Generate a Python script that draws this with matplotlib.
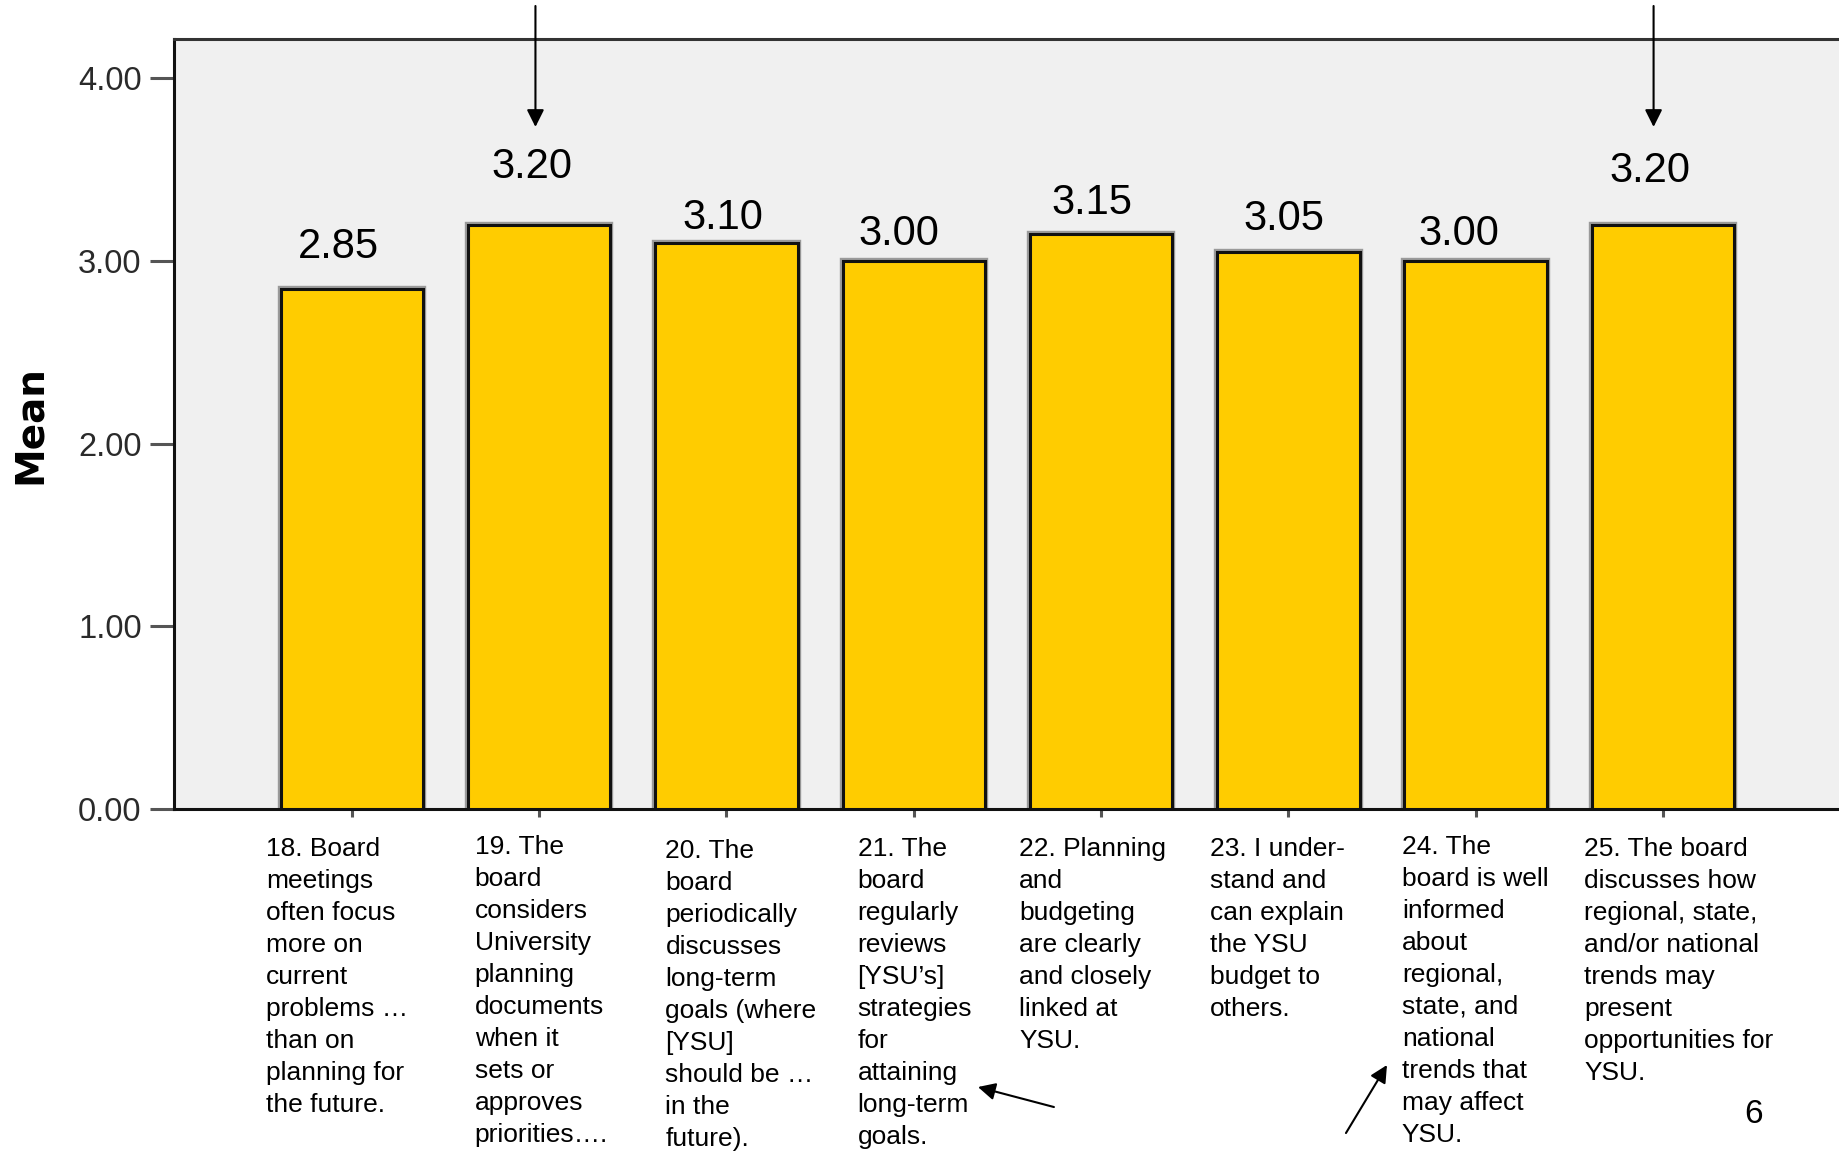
import matplotlib
matplotlib.use("Agg")
import matplotlib.pyplot as plt
from matplotlib.transforms import blended_transform_factory

# Survey items (x categories) and their mean ratings
items = [
    "18. Board\nmeetings\noften focus\nmore on\ncurrent\nproblems …\nthan on\nplanning for\nthe future.",
    "19. The\nboard\nconsiders\nUniversity\nplanning\ndocuments\nwhen it\nsets or\napproves\npriorities….",
    "20. The\nboard\nperiodically\ndiscusses\nlong-term\ngoals (where\n[YSU]\nshould be …\nin the\nfuture).",
    "21. The\nboard\nregularly\nreviews\n[YSU’s]\nstrategies\nfor\nattaining\nlong-term\ngoals.",
    "22. Planning\nand\nbudgeting\nare clearly\nand closely\nlinked at\nYSU.",
    "23. I under-\nstand and\ncan explain\nthe YSU\nbudget to\nothers.",
    "24. The\nboard is well\ninformed\nabout\nregional,\nstate, and\nnational\ntrends that\nmay affect\nYSU.",
    "25. The board\ndiscusses how\nregional, state,\nand/or national\ntrends may\npresent\nopportunities for\nYSU.",
]
means = [2.85, 3.20, 3.10, 3.00, 3.15, 3.05, 3.00, 3.20]
y_ticks = [0.0, 1.0, 2.0, 3.0, 4.0]
y_label = "Mean"
page_number = "6"
highlighted = [1, 7]  # items marked with an arrow from above

# Hand placement of the value labels (index units, data units above bar)
value_dx = [-0.07, -0.04, -0.02, -0.08, -0.05, -0.025, -0.09, -0.07]
value_dy = [0.225, 0.318, 0.135, 0.146, 0.169, 0.179, 0.146, 0.292]
# Left edge of each category text block (index units from bar centre)
text_dx = [-0.457, -0.344, -0.326, -0.30, -0.438, -0.42, -0.394, -0.42]
text_dy = [0.0, 0.012, -0.012, 0.0, 0.0, 0.0, 0.012, 0.0]

SANS = ["Liberation Sans", "DejaVu Sans"]
plt.rcParams["font.family"] = SANS

fig = plt.figure(figsize=(18.39, 11.51), dpi=100)
fig.patch.set_facecolor("white")
ax = fig.add_axes([0.0944, 0.2970, 0.9056, 0.6694])
ax.set_facecolor("#f0f0f0")

x = list(range(len(means)))
bar_w = 0.76

# soft grey halo behind each bar, then the gold bar with a black outline
ax.bar(x, means, width=bar_w, color="none", edgecolor="#9a9a9a", linewidth=4.6, zorder=2)
ax.bar(x, means, width=bar_w, color="#ffcc00", edgecolor="#111111", linewidth=2.2, zorder=3)

for i, v in enumerate(means):
    ax.text(i + value_dx[i], v + value_dy[i], f"{v:.2f}", ha="center", va="center",
            fontsize=30, color="black", zorder=4)

ax.set_xlim(-0.952, 7.94)
ax.set_ylim(0, 4.218)

ax.set_yticks(y_ticks)
ax.set_yticklabels([f"{t:.2f}" for t in y_ticks])
ax.tick_params(axis="y", direction="out", length=17, width=2.2, color="#555555",
               pad=6, labelsize=23.5, labelcolor="#2a2a2a")
ax.set_xticks(x)
ax.set_xticklabels([])
ax.tick_params(axis="x", direction="out", length=6, width=2.2, color="#555555")

for side in ("left", "bottom"):
    ax.spines[side].set_color("#111111")
    ax.spines[side].set_linewidth(2.2)
ax.spines["top"].set_color("#333333")
ax.spines["top"].set_linewidth(2.2)
ax.spines["right"].set_visible(False)

# category text blocks under the axis
for i, lab in enumerate(items):
    ax.text(i + text_dx[i], -0.153 + text_dy[i], lab, ha="left", va="top",
            fontsize=19, linespacing=1.42, color="black", clip_on=False)

fig.text(0.0165, 0.6312, y_label, rotation=90, ha="center", va="center",
         fontsize=28, fontweight="bold", family=["DejaVu Sans"])
fig.text(0.9534, 0.032, page_number, ha="center", va="center", fontsize=24)

# arrows pointing down at the highlighted items
trans = blended_transform_factory(ax.transData, fig.transFigure)
arrow_kw = dict(arrowstyle="-|>", mutation_scale=26, lw=1.5, color="black",
                shrinkA=0, shrinkB=0)
for i, off in zip(highlighted, [-0.02, -0.05]):
    ax.annotate("", xy=(i + off, 0.8897), xycoords=trans,
                xytext=(i + off, 0.9948), textcoords=trans,
                arrowprops=arrow_kw, annotation_clip=False)

# arrows pointing at the item texts
fig_arrows = [((0.5731, 0.0382), (0.5318, 0.0556)),
              ((0.7319, 0.0156), (0.7542, 0.0747))]
for tail, head in fig_arrows:
    ax.annotate("", xy=head, xycoords="figure fraction",
                xytext=tail, textcoords="figure fraction",
                arrowprops=arrow_kw, annotation_clip=False)

fig.savefig("out.png", dpi=100, facecolor="white")
